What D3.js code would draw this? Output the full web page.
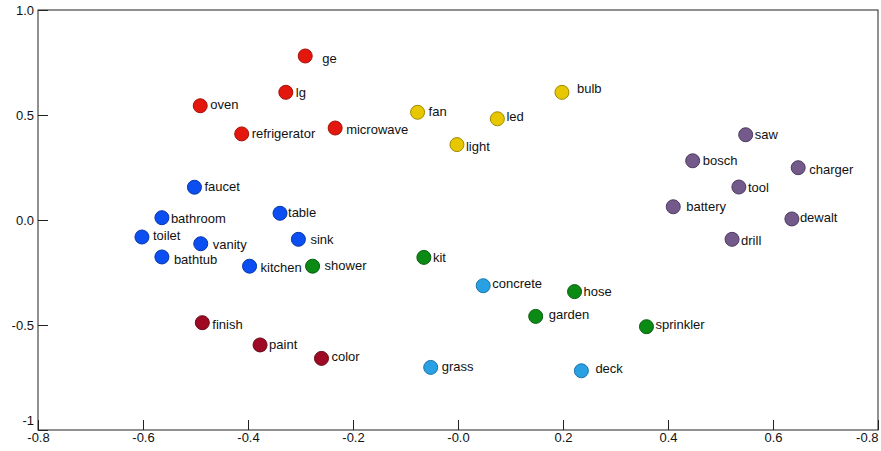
<!DOCTYPE html>
<html>
<head>
<meta charset="utf-8">
<script src="https://cdn.jsdelivr.net/npm/d3@7"></script>
<style>
  body { margin: 0; background: #fff; }
  svg text { font-family: "Liberation Sans", Arial, Helvetica, sans-serif; }
</style>
</head>
<body>
<svg id="chart" width="881" height="451"></svg>
<script>
// word embedding projection
var words = ['ge', 'lg', 'oven', 'refrigerator', 'microwave',
             'fan', 'led', 'light', 'bulb',
             'faucet', 'bathroom', 'toilet', 'vanity', 'bathtub', 'table', 'sink', 'kitchen',
             'shower', 'kit', 'hose', 'garden', 'sprinkler',
             'concrete', 'grass', 'deck',
             'finish', 'paint', 'color',
             'saw', 'bosch', 'charger', 'tool', 'battery', 'dewalt', 'drill'];
var xs = [-0.291, -0.328, -0.491, -0.412, -0.234,
          -0.077, 0.075, -0.002, 0.198,
          -0.502, -0.564, -0.602, -0.490, -0.564, -0.339, -0.304, -0.397,
          -0.277, -0.065, 0.222, 0.148, 0.359,
          0.048, -0.052, 0.235,
          -0.487, -0.377, -0.260,
          0.548, 0.447, 0.648, 0.535, 0.410, 0.636, 0.522];
var ys = [0.781, 0.608, 0.544, 0.410, 0.438,
          0.513, 0.482, 0.359, 0.608,
          0.156, 0.011, -0.081, -0.113, -0.176, 0.032, -0.092, -0.220,
          -0.220, -0.178, -0.341, -0.459, -0.508,
          -0.313, -0.702, -0.718,
          -0.489, -0.595, -0.659,
          0.406, 0.282, 0.249, 0.157, 0.063, 0.005, -0.092];
var groups = [0, 0, 0, 0, 0,
              1, 1, 1, 1,
              2, 2, 2, 2, 2, 2, 2, 2,
              3, 3, 3, 3, 3,
              4, 4, 4,
              5, 5, 5,
              6, 6, 6, 6, 6, 6, 6];
// label nudges (px) from the point
var labelDx = [17, 10, 10, 10, 11,
               11, 9, 9, 15,
               10, 9, 11, 12, 12, 8, 12, 11,
               12, 9, 9, 13, 9,
               9, 11, 14,
               10, 9, 10,
               9, 10, 11, 9, 13, 8, 9];
var labelDy = [2, 0, -1, 0, 1,
               -1, -2, 2, -4,
               -1, 1, -2, 1, 2, -1, 0, 1,
               -1, 0, 0, -2, -2,
               -2, -1, -2,
               2, -1, -2,
               0, 0, 2, 0, 0, -2, 1];

var fills   = ['#e3170d', '#e6c700', '#0b4ff2', '#0b8a14', '#29a0e4', '#9e0a24', '#735a8a'];
var strokes = ['#a3110a', '#a08a00', '#0736a8', '#065e0e', '#1a74aa', '#680616', '#4c3a60'];

var xTicks = [-0.8, -0.6, -0.4, -0.2, 0, 0.2, 0.4, 0.6, 0.8];
var xTickLabels = ['-0.8', '-0.6', '-0.4', '-0.2', '-0.0', '0.2', '0.4', '0.6', '-0.8'];
var yTicks = [-1, -0.5, 0, 0.5, 1];
var yTickLabels = ['-1', '-0.5', '0.0', '0.5', '1.0'];

var svg = d3.select('#chart');
var mLeft = 38, mRight = 878, mTop = 10, mBottom = 430;

var x = d3.scaleLinear().domain([-0.8, 0.8]).range([mLeft, mRight]);
var y = d3.scaleLinear().domain([-1, 1]).range([mBottom, mTop]);

var xAxis = d3.axisBottom(x)
  .tickValues(xTicks)
  .tickFormat(function(d, i) { return xTickLabels[i]; })
  .tickSizeInner(-10).tickSizeOuter(0).tickPadding(3);
var yAxis = d3.axisLeft(y)
  .tickValues(yTicks)
  .tickFormat(function(d, i) { return yTickLabels[i]; })
  .tickSizeInner(-10).tickSizeOuter(0).tickPadding(4);

var gx = svg.append('g').attr('transform', 'translate(0,' + mBottom + ')').call(xAxis);
var gy = svg.append('g').attr('transform', 'translate(' + mLeft + ',0)').call(yAxis);

[gx, gy].forEach(function(g) {
  g.select('.domain').remove();
  g.selectAll('line').attr('stroke', '#222');
  g.selectAll('text').attr('fill', '#111').style('font-size', '13px');
});
// the -1 label sits a bit above the corner, the last x label is pulled inside
gy.selectAll('.tick text').filter(function(d) { return d === -1; }).attr('dy', '-0.45em');
gx.selectAll('.tick text').filter(function(d) { return d === 0.8; }).attr('text-anchor', 'end');

svg.append('rect')
  .attr('x', mLeft).attr('y', mTop)
  .attr('width', mRight - mLeft).attr('height', mBottom - mTop)
  .attr('fill', 'none').attr('stroke', '#222').attr('stroke-width', 1);

var pts = svg.append('g').selectAll('g')
  .data(words)
  .enter()
  .append('g');

pts.append('circle')
  .attr('cx', function(d, i) { return x(xs[i]); })
  .attr('cy', function(d, i) { return y(ys[i]); })
  .attr('r', 7)
  .attr('fill', function(d, i) { return fills[groups[i]]; })
  .attr('stroke', function(d, i) { return strokes[groups[i]]; })
  .attr('stroke-width', 1);

pts.append('text')
  .attr('x', function(d, i) { return x(xs[i]) + labelDx[i]; })
  .attr('y', function(d, i) { return y(ys[i]) + labelDy[i]; })
  .attr('dy', '0.35em')
  .style('font-size', '13px')
  .attr('fill', '#111')
  .text(function(d) { return d; });
</script>
</body>
</html>
